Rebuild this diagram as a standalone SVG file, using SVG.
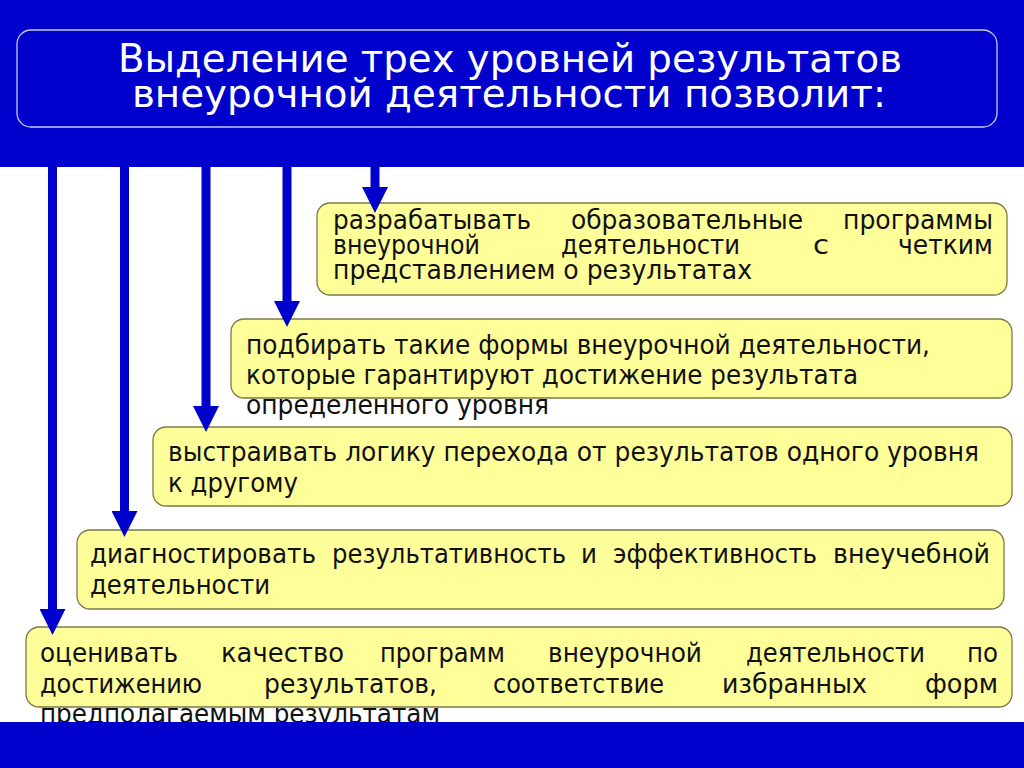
<svg xmlns="http://www.w3.org/2000/svg" width="1024" height="768" viewBox="0 0 1024 768">
<style>
.band{fill:#0000CC}
.box{fill:#FFFF99;stroke:#7a7a48;stroke-width:1.3}
.t{font-family:"DejaVu Sans","Liberation Sans",sans-serif;font-size:26px;fill:#111}
.title{font-family:"DejaVu Sans","Liberation Sans",sans-serif;font-size:39px;fill:#fff}
.arr{stroke:#0000CC;stroke-width:9;fill:none;marker-end:url(#head)}
</style>
<defs>
<marker id="head" viewBox="0 0 26 26" refX="0" refY="13" markerWidth="26" markerHeight="26" markerUnits="userSpaceOnUse" orient="auto">
<path d="M0,0 L26,13 L0,26 z" fill="#0000CC"/>
</marker>
</defs>
<rect width="1024" height="768" fill="#fff"/>
<g id="header">
<rect class="band" x="0" y="0" width="1024" height="167"/>
<rect x="17" y="30" width="980" height="97" rx="14" fill="#0000CC" stroke="#c8c8f0" stroke-width="1.3"/>
<text class="title" x="118" y="72" textLength="784" lengthAdjust="spacingAndGlyphs">Выделение трех уровней результатов</text>
<text class="title" x="132" y="107" textLength="754" lengthAdjust="spacingAndGlyphs">внеурочной деятельности позволит:</text>
</g>
<g id="box1">
<rect class="box" x="317" y="203" width="690" height="92" rx="13"/>
<text class="t" x="333" y="229" textLength="198" lengthAdjust="spacingAndGlyphs">разрабатывать</text>
<text class="t" x="571" y="229" textLength="232" lengthAdjust="spacingAndGlyphs">образовательные</text>
<text class="t" x="843" y="229" textLength="150" lengthAdjust="spacingAndGlyphs">программы</text>
<text class="t" x="333" y="254" textLength="147" lengthAdjust="spacingAndGlyphs">внеурочной</text>
<text class="t" x="561" y="254" textLength="179" lengthAdjust="spacingAndGlyphs">деятельности</text>
<text class="t" x="813" y="254" textLength="16" lengthAdjust="spacingAndGlyphs">с</text>
<text class="t" x="898" y="254" textLength="95" lengthAdjust="spacingAndGlyphs">четким</text>
<text class="t" x="333" y="279" textLength="419" lengthAdjust="spacingAndGlyphs">представлением  о результатах</text>
</g>
<g id="box2">
<rect class="box" x="231" y="319" width="781" height="79" rx="13"/>
<text class="t" x="246" y="354" textLength="684" lengthAdjust="spacingAndGlyphs">подбирать такие формы внеурочной деятельности,</text>
<text class="t" x="246" y="384" textLength="612" lengthAdjust="spacingAndGlyphs">которые гарантируют достижение результата</text>
<text class="t" x="246" y="414" textLength="303" lengthAdjust="spacingAndGlyphs">определенного уровня</text>
</g>
<g id="box3">
<rect class="box" x="153" y="427" width="859" height="79" rx="13"/>
<text class="t" x="168" y="461" textLength="811" lengthAdjust="spacingAndGlyphs">выстраивать логику перехода от результатов одного уровня</text>
<text class="t" x="168" y="492" textLength="130" lengthAdjust="spacingAndGlyphs">к другому</text>
</g>
<g id="box4">
<rect class="box" x="77" y="530" width="927" height="79" rx="13"/>
<text class="t" x="90" y="563" textLength="226" lengthAdjust="spacingAndGlyphs">диагностировать</text>
<text class="t" x="332" y="563" textLength="234" lengthAdjust="spacingAndGlyphs">результативность</text>
<text class="t" x="581" y="563" textLength="16" lengthAdjust="spacingAndGlyphs">и</text>
<text class="t" x="613" y="563" textLength="204" lengthAdjust="spacingAndGlyphs">эффективность</text>
<text class="t" x="833" y="563" textLength="157" lengthAdjust="spacingAndGlyphs">внеучебной</text>
<text class="t" x="90" y="594" textLength="180" lengthAdjust="spacingAndGlyphs">деятельности</text>
</g>
<g id="box5">
<rect class="box" x="26" y="627" width="986" height="80" rx="13"/>
<text class="t" x="40" y="662" textLength="138" lengthAdjust="spacingAndGlyphs">оценивать</text>
<text class="t" x="221" y="662" textLength="123" lengthAdjust="spacingAndGlyphs">качество</text>
<text class="t" x="380" y="662" textLength="125" lengthAdjust="spacingAndGlyphs">программ</text>
<text class="t" x="548" y="662" textLength="154" lengthAdjust="spacingAndGlyphs">внеурочной</text>
<text class="t" x="746" y="662" textLength="179" lengthAdjust="spacingAndGlyphs">деятельности</text>
<text class="t" x="967" y="662" textLength="31" lengthAdjust="spacingAndGlyphs">по</text>
<text class="t" x="40" y="693" textLength="162" lengthAdjust="spacingAndGlyphs">достижению</text>
<text class="t" x="264" y="693" textLength="173" lengthAdjust="spacingAndGlyphs">результатов,</text>
<text class="t" x="493" y="693" textLength="171" lengthAdjust="spacingAndGlyphs">соответствие</text>
<text class="t" x="722" y="693" textLength="145" lengthAdjust="spacingAndGlyphs">избранных</text>
<text class="t" x="925" y="693" textLength="73" lengthAdjust="spacingAndGlyphs">форм</text>
<text class="t" x="40" y="723" textLength="400" lengthAdjust="spacingAndGlyphs">предполагаемым результатам</text>
</g>
<g id="connectors">
<line class="arr" x1="375" y1="160" x2="375" y2="187"/>
<line class="arr" x1="287" y1="160" x2="287" y2="301"/>
<line class="arr" x1="206" y1="160" x2="206" y2="406"/>
<line class="arr" x1="124.5" y1="160" x2="124.5" y2="511"/>
<line class="arr" x1="52.5" y1="160" x2="52.5" y2="609"/>
</g>
<rect id="footer" class="band" x="0" y="722" width="1024" height="46"/>
</svg>
